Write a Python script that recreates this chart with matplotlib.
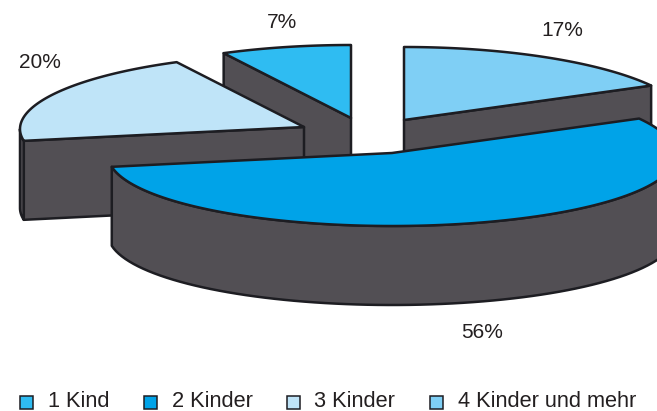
#!/usr/bin/env python3

import numpy as np
import matplotlib
matplotlib.use('Agg')
import matplotlib.pyplot as plt
from matplotlib.patches import Polygon, Rectangle

plt.rcParams['font.family'] = ['Liberation Sans', 'DejaVu Sans']

# data, clockwise from 12 o'clock (printed labels are rounded, shares estimated from the slices)
categories = ['4 Kinder und mehr', '2 Kinder', '3 Kinder', '1 Kind']
shares = [16.8, 55.6, 20.2, 7.4]
labels = ['17%', '56%', '20%', '7%']
legend_order = ['1 Kind', '2 Kinder', '3 Kinder', '4 Kinder und mehr']

# styles
colors = {'1 Kind': '#2fbcf2', '2 Kinder': '#00a3e8', '3 Kinder': '#bfe4f8', '4 Kinder und mehr': '#7fcff5'}
wall = '#524f54'
line = '#1d1d22'

# layout in pixels
apex = {'4 Kinder und mehr': (404, 120), '2 Kinder': (392, 153), '3 Kinder': (304, 127), '1 Kind': (351, 118)}
label_pos = {'17%': (562, 31), '56%': (482, 332), '20%': (40, 62), '7%': (282, 22)}
legend_x = {'1 Kind': (20, 48), '2 Kinder': (144, 172), '3 Kinder': (287, 314), '4 Kinder und mehr': (430, 458)}
rx, ry, bulge, depth = 284, 73, 2, 79


def rim(c, t):
    return np.column_stack([c[0] + rx * np.sin(t), c[1] - ry * np.cos(t) + bulge * np.sin(t) ** 2])


def strip(pts):
    return np.vstack([pts, pts[::-1] + [0, depth]])


def poly(ax, pts, color):
    ax.add_patch(Polygon(pts, closed=True, facecolor=color, edgecolor=line, linewidth=1.8, joinstyle='round'))


fig = plt.figure(figsize=(6.57, 4.11), dpi=100)
ax = fig.add_axes([0, 0, 1, 1])
ax.set_xlim(0, 657)
ax.set_ylim(411, 0)
ax.axis('off')

# angles of each slice
edges = np.radians(np.cumsum([0] + shares) * 3.6)
slices = {c: (edges[i], edges[i + 1]) for i, c in enumerate(categories)}

# back to front
for cat in ['1 Kind', '4 Kinder und mehr', '3 Kinder', '2 Kinder']:
    t0, t1 = slices[cat]
    c = apex[cat]
    mid = rim(c, np.array([(t0 + t1) / 2]))[0] - c
    # cut walls, only where the slice lies above the cut on screen
    for t in (t0, t1):
        end = rim(c, np.array([t]))[0]
        d = end - c
        if abs(d[0]) > 1 and (d[0] * mid[1] - d[1] * mid[0]) * d[0] < 0:
            poly(ax, strip(np.array([c, end])), wall)
    # outer wall, only the part facing the viewer
    lo, hi = max(t0, np.pi / 2), min(t1, 3 * np.pi / 2)
    if hi > lo:
        poly(ax, strip(rim(c, np.linspace(lo, hi, 80))), wall)
    # top face
    top = np.vstack([[c], rim(c, np.linspace(t0, t1, 120))])
    poly(ax, top, colors[cat])

for lab in labels:
    ax.text(*label_pos[lab], lab, fontsize=15, color='#231f20', ha='center', va='center')

for name in legend_order:
    bx, tx = legend_x[name]
    ax.add_patch(Rectangle((bx, 396), 13, 13, facecolor=colors[name], edgecolor=line, linewidth=1.1))
    ax.text(tx, 401.5, name, fontsize=15.7, color='#231f20', ha='left', va='center')

fig.savefig('out.png', dpi=100)
